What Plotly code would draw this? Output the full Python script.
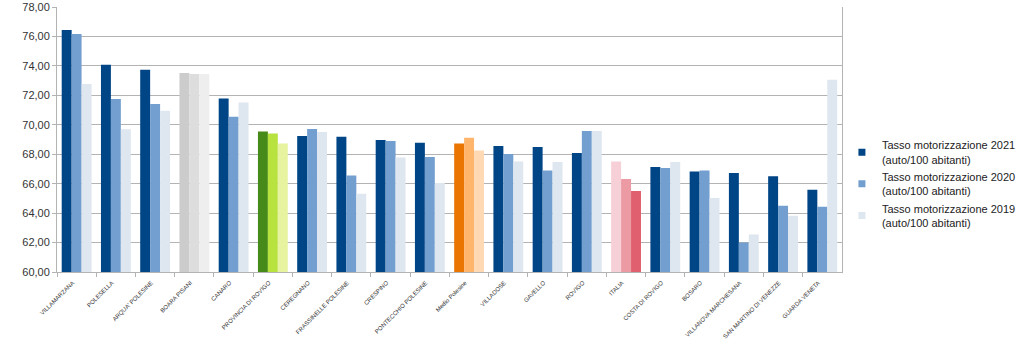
import plotly.graph_objects as go

categories = ["VILLAMARZANA", "POLESELLA", "ARQUA' POLESINE", "BOARA PISANI", "CANARO",
              "PROVINCIA DI ROVIGO", "CEREGNANO", "FRASSINELLE POLESINE", "CRESPINO",
              "PONTECCHIO POLESINE", "Medio Polesine", "VILLADOSE", "GAVELLO", "ROVIGO",
              "ITALIA", "COSTA DI ROVIGO", "BOSARO", "VILLANOVA MARCHESANA",
              "SAN MARTINO DI VENEZZE", "GUARDA VENETA"]

tasso_2021 = [76.44, 74.08, 73.74, 73.52, 71.79, 69.55, 69.24, 69.19, 68.97, 68.78,
              68.72, 68.56, 68.49, 68.08, 67.51, 67.13, 66.83, 66.73, 66.50, 65.59]
tasso_2020 = [76.17, 71.75, 71.41, 73.45, 70.55, 69.40, 69.71, 66.56, 68.90, 67.81,
              69.12, 68.02, 66.90, 69.57, 66.32, 67.07, 66.90, 62.01, 64.50, 64.44]
tasso_2019 = [72.77, 69.69, 70.96, 73.45, 71.52, 68.72, 69.51, 65.32, 67.77, 66.05,
              68.26, 67.51, 67.47, 69.57, 65.50, 67.47, 65.03, 62.55, 63.82, 73.06]

series_names = ["Tasso motorizzazione 2021<br>(auto/100 abitanti)",
                "Tasso motorizzazione 2020<br>(auto/100 abitanti)",
                "Tasso motorizzazione 2019<br>(auto/100 abitanti)"]
base_colors = ["#004586", "#729fcf", "#dee6ef"]
highlight_colors = {
    "BOARA PISANI": ["#cccccc", "#dddddd", "#eeeeee"],
    "PROVINCIA DI ROVIGO": ["#468a1a", "#b8e23e", "#e8f3a0"],
    "Medio Polesine": ["#ea7500", "#ffb56b", "#ffd9b3"],
    "ITALIA": ["#f7cfd6", "#ec9aa3", "#e0606f"],
}

fig = go.Figure()
for i, (name, vals) in enumerate(zip(series_names, [tasso_2021, tasso_2020, tasso_2019])):
    colors = [highlight_colors[c][i] if c in highlight_colors else base_colors[i] for c in categories]
    fig.add_trace(go.Bar(x=categories, y=vals, name=name, showlegend=False,
                         marker=dict(color=colors, line=dict(width=0))))
# legend entries (small square swatches)
for i, name in enumerate(series_names):
    fig.add_trace(go.Scatter(x=[None], y=[None], mode="markers", name=name,
                             marker=dict(symbol="square", size=7, color=base_colors[i])))

fig.update_layout(
    width=1023, height=360,
    margin=dict(l=57, r=179, t=7, b=88),
    paper_bgcolor="white", plot_bgcolor="white",
    barmode="group", bargap=0.24, bargroupgap=0,
    separators=",.",
    font=dict(family="Liberation Sans, Arial, sans-serif", color="#333333"),
    legend=dict(xref="container", yref="container", x=0.823, y=0.489,
                yanchor="middle", xanchor="left",
                font=dict(size=11, color="#222222"),
                itemwidth=30, bgcolor="rgba(0,0,0,0)"),
    showlegend=True,
)
fig.update_yaxes(range=[60, 78], dtick=2, tickformat=".2f", automargin=False,
                 showgrid=True, gridcolor="#b3b3b3", gridwidth=1,
                 showline=True, linecolor="#b3b3b3", mirror=True,
                 ticks="outside", ticklen=4, tickcolor="#b3b3b3",
                 tickfont=dict(size=11, color="#333333"), zeroline=False)
fig.update_xaxes(showline=True, linecolor="#b3b3b3", ticks="outside", ticklen=4,
                 tickcolor="#b3b3b3", tickson="boundaries", tickangle=-45,
                 ticklabelstandoff=4, ticklabelshift=-4,
                 automargin=False, tickfont=dict(size=6, color="#333333"))

fig.write_html("out.html", config={"displayModeBar": False},
               post_script="document.body.style.margin='0';")
